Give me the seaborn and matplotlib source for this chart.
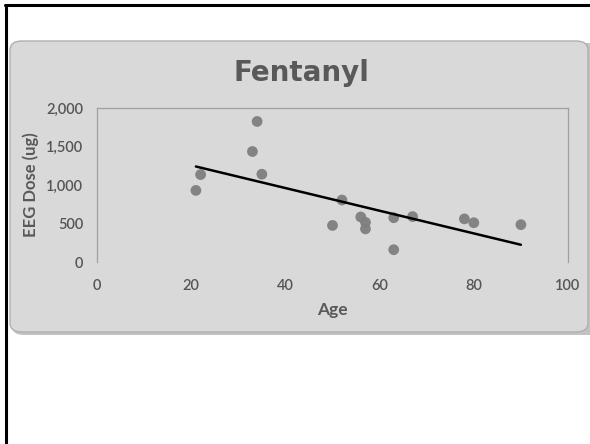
import numpy as np
import pandas as pd
import seaborn as sns
import matplotlib.pyplot as plt
from matplotlib.patches import FancyBboxPatch
from matplotlib.lines import Line2D

# values
age = [21, 22, 33, 34, 35, 50, 52, 56, 57, 57, 63, 63, 67, 78, 80, 90]
dose = [930, 1135, 1435, 1825, 1140, 475, 805, 585, 515, 430, 575, 160, 590, 560, 510, 485]
title = "Fentanyl"
x_label = "Age"
y_label = "EEG Dose (ug)"

df = pd.DataFrame({"Age": age, "Dose": dose})

sns.set_style("white")
plt.rcParams['font.family'] = ['Lato', 'DejaVu Sans']

W, H = 590, 444
dpi = 100
fig = plt.figure(figsize=(W / dpi, H / dpi), dpi=dpi)
fig.patch.set_facecolor("white")

def fx(px):
    return px / W

def fy(py):
    return 1 - py / H

# black slide frame (top + left edges only visible)
fig.lines.append(Line2D([fx(6), fx(6)], [0, fy(5)], transform=fig.transFigure,
                        color="black", lw=2.2, zorder=0))
fig.lines.append(Line2D([fx(5), 1], [fy(5), fy(5)], transform=fig.transFigure,
                        color="black", lw=2.2, zorder=0))

# shadow + grey chart panel
shadow = FancyBboxPatch((fx(12), fy(335)), fx(590), fy(43) - fy(335),
                        boxstyle="round,pad=0,rounding_size=0.02", transform=fig.transFigure,
                        facecolor="#9a9a9a", edgecolor="none", alpha=0.6, zorder=1)
panel = FancyBboxPatch((fx(10), fy(332)), fx(578), fy(41) - fy(332),
                       boxstyle="round,pad=0,rounding_size=0.02", transform=fig.transFigure,
                       facecolor="#d9d9d9", edgecolor="#b0b0b0", lw=1.0, zorder=2)
fig.patches.append(shadow)
fig.patches.append(panel)

ax = fig.add_axes([fx(97), fy(262), fx(568) - fx(97), fy(108) - fy(262)])
ax.set_facecolor("none")
ax.set_zorder(3)

sns.regplot(data=df, x="Age", y="Dose", ci=None, truncate=True, ax=ax,
            scatter_kws=dict(s=60, color="#7f7f7f", edgecolor="none", alpha=0.95, zorder=3),
            line_kws=dict(color="black", lw=1.8, zorder=4))

ax.set_xlim(0, 100)
ax.set_ylim(0, 2000)
ax.set_xticks([0, 20, 40, 60, 80, 100])
ax.set_yticks([0, 500, 1000, 1500, 2000])
ax.yaxis.set_major_formatter(plt.FuncFormatter(lambda v, p: f"{int(v):,}"))
ax.tick_params(length=0, labelsize=10.5, labelcolor="#555555")
ax.tick_params(axis="x", pad=12)
ax.tick_params(axis="y", pad=10)
for lbl in ax.get_xticklabels() + ax.get_yticklabels():
    lbl.set_fontweight("semibold")

for side in ["top", "left", "right"]:
    ax.spines[side].set_visible(True)
    ax.spines[side].set_color("#a0a0a0")
    ax.spines[side].set_linewidth(0.9)
ax.spines["bottom"].set_visible(False)

ax.set_xlabel(x_label, fontsize=12.5, fontweight="bold", color="#595959", labelpad=7)
ax.set_ylabel(y_label, fontsize=12, fontweight="bold", color="#595959", labelpad=5)

fig.text(fx(301), fy(73), title, ha="center", va="center", fontsize=20,
         fontweight="bold", color="#595959", family="DejaVu Sans", zorder=5)

fig.savefig("out.png", dpi=dpi)
